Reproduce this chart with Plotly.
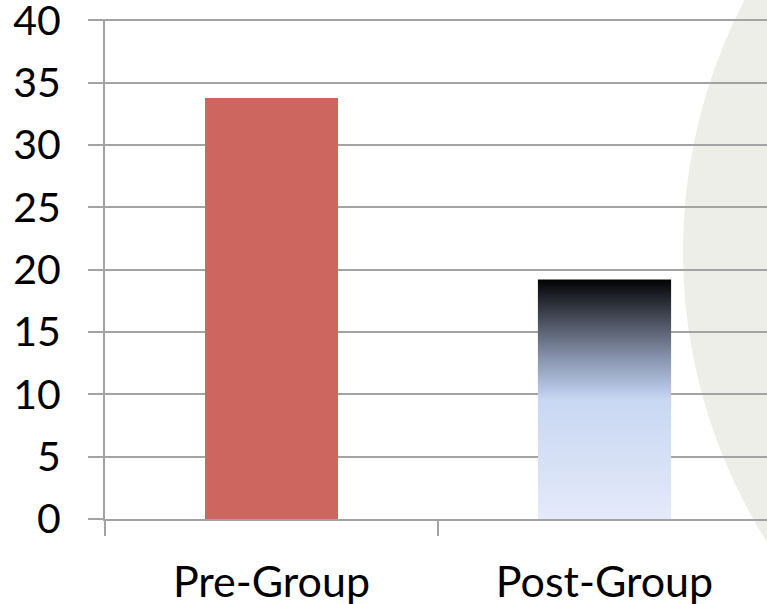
import plotly.graph_objects as go

# Survey scores before and after the group sessions
categories = ["Pre-Group", "Post-Group"]
values = [33.8, 19.2]
y_tick_values = [0, 5, 10, 15, 20, 25, 30, 35, 40]

BAR_WIDTH = 0.4
GRID_COLOR = "#A3A3A3"
FONT = "Lato, Carlito, Calibri, sans-serif"

positions = list(range(len(categories)))

fig = go.Figure()

# Pre-Group: plain solid bar
fig.add_trace(go.Bar(
    x=[positions[0]], y=[values[0]], width=BAR_WIDTH,
    marker=dict(color="#CD665E", line=dict(width=0)),
    hoverinfo="skip", showlegend=False,
))

# Post-Group: bar filled with a vertical gradient (light blue at the base, black at the top)
xc = positions[1]
half = BAR_WIDTH / 2
fig.add_trace(go.Scatter(
    x=[xc - half, xc + half, xc + half, xc - half, xc - half],
    y=[0, 0, values[1], values[1], 0],
    mode="lines", line=dict(width=0), fill="toself",
    fillgradient=dict(
        type="vertical",
        colorscale=[
            [0.0, "#E4EAF9"],
            [0.5, "#C8D7F2"],
            [0.53, "#BACAE8"],
            [0.665, "#8A97B1"],
            [0.8, "#555C6C"],
            [0.92, "#23262E"],
            [1.0, "#030304"],
        ],
    ),
    hoverinfo="skip", showlegend=False,
))

# Large pale disc in the background on the right-hand side
fig.add_shape(
    type="circle", xref="paper", yref="paper", layer="below",
    x0=0.873, x1=2.505, y0=-0.55, y1=1.62,
    fillcolor="#EDEEE8", line=dict(width=0),
)

fig.update_layout(
    width=767, height=604,
    margin=dict(l=105, r=0, t=19, b=85, autoexpand=False),
    paper_bgcolor="white",
    plot_bgcolor="rgba(0,0,0,0)",
    font=dict(family=FONT, size=41, color="black"),
    bargap=0,
    showlegend=False,
)

fig.update_xaxes(
    range=[-0.5, -0.5 + 662 / 333],
    tickmode="array", tickvals=positions, ticktext=categories,
    tickfont=dict(size=43),
    ticks="", ticklabelstandoff=24,
    ticklabeloverflow="allow",
    showline=True, linecolor=GRID_COLOR, linewidth=2,
    showgrid=False, zeroline=False, automargin=False,
    minor=dict(tickmode="array", tickvals=[p - 0.5 for p in positions],
               ticks="outside", ticklen=15, tickwidth=2, tickcolor=GRID_COLOR,
               showgrid=False),
    fixedrange=True,
)

fig.update_yaxes(
    range=[0, 40.1],
    tickmode="array", tickvals=y_tick_values,
    ticks="outside", ticklen=15, tickwidth=2, tickcolor=GRID_COLOR,
    ticklabelstandoff=19, ticklabeloverflow="allow",
    showline=True, linecolor=GRID_COLOR, linewidth=2,
    showgrid=True, gridcolor=GRID_COLOR, gridwidth=2,
    zeroline=False, automargin=False,
    fixedrange=True,
)

fig.write_html("out.html")
